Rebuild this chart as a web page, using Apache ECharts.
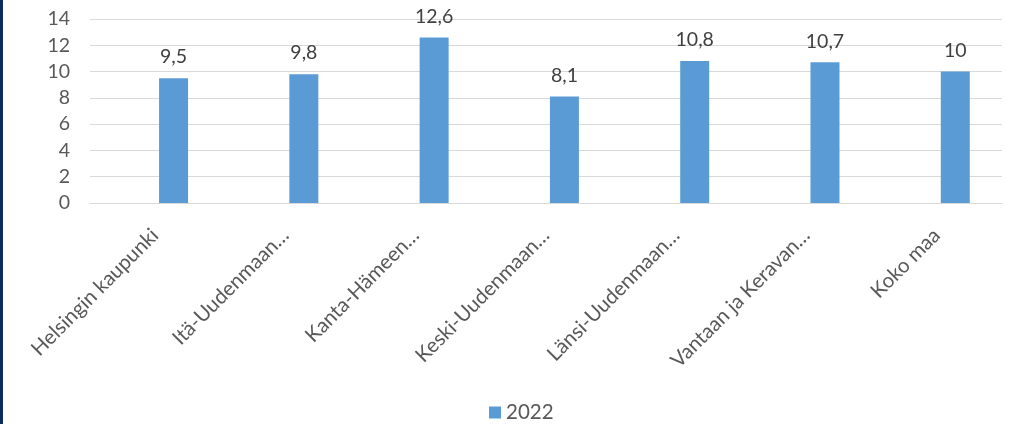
<!DOCTYPE html>
<html>
<head>
<meta charset="utf-8">
<script src="https://cdn.jsdelivr.net/npm/echarts@6/dist/echarts.min.js"></script>
<style>
html,body{margin:0;padding:0;background:#fff;}
#c{width:1018px;height:424px;box-sizing:border-box;border-left:3px solid #0f2b5b;}
</style>
</head>
<body>
<div id="c"></div>
<script>
const categories = ['Helsingin kaupunki','Itä-Uudenmaan…','Kanta-Hämeen…','Keski-Uudenmaan…','Länsi-Uudenmaan…','Vantaan ja Keravan…','Koko maa'];
const values2022 = [9.5, 9.8, 12.6, 8.1, 10.8, 10.7, 10];
const yTicks = {min: 0, max: 14, interval: 2};
const seriesName = '2022';

const chart = echarts.init(document.getElementById('c'));
const font = 'Lato, "Open Sans", sans-serif';
chart.setOption({
  animation: false,
  textStyle: {fontFamily: font},
  grid: {left: 87, right: 16, top: 19, bottom: 221, containLabel: false},
  legend: {
    data: [seriesName], left: 486, top: 402, padding: 0,
    itemWidth: 12, itemHeight: 12, itemGap: 5,
    icon: 'rect',
    textStyle: {fontSize: 20.5, color: '#595959', fontFamily: font}
  },
  xAxis: {
    type: 'category', data: categories,
    axisLine: {show: true, lineStyle: {color: '#d9d9d9', width: 1}},
    axisTick: {show: false},
    axisLabel: {rotate: 45, interval: 0, fontSize: 20.5, color: '#595959', margin: 29, fontFamily: font}
  },
  yAxis: {
    type: 'value', min: yTicks.min, max: yTicks.max, interval: yTicks.interval,
    axisLine: {show: false}, axisTick: {show: false},
    splitLine: {lineStyle: {color: '#d9d9d9', width: 1}},
    axisLabel: {fontSize: 19.5, color: '#595959', margin: 20, fontFamily: font}
  },
  series: [
    {name: '', type: 'bar', data: categories.map(() => '-'), barWidth: 29, barGap: '27%', silent: true},
    {
      name: seriesName, type: 'bar', data: values2022, barWidth: 29, barGap: '27%',
      itemStyle: {color: '#5b9bd5'},
      label: {
        show: true, position: 'top', distance: 11, fontSize: 19.5, color: '#404040', fontFamily: font,
        formatter: p => String(p.value).replace('.', ',')
      }
    }
  ]
});
</script>
</body>
</html>
